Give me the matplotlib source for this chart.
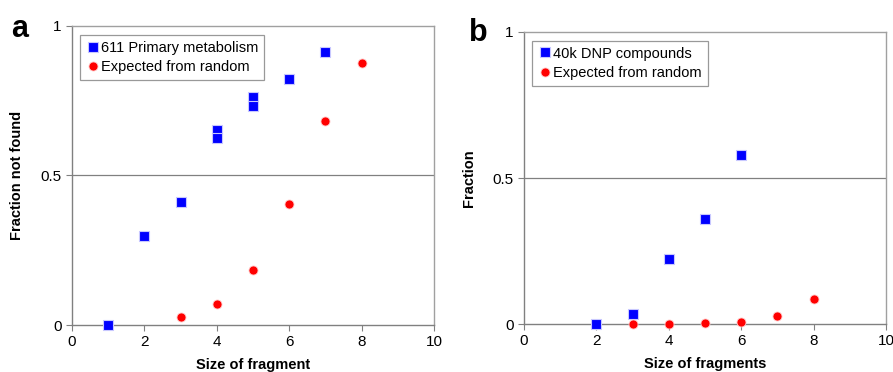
import numpy as np
import matplotlib
matplotlib.use('Agg')
import matplotlib.pyplot as plt

plt.rcParams['font.family'] = ['Liberation Sans', 'DejaVu Sans']

# panel a
a_blue_x = [1, 2, 3, 4, 4, 5, 5, 6, 7]
a_blue_y = [0.0, 0.299, 0.41, 0.652, 0.625, 0.762, 0.732, 0.823, 0.912]
a_red_x = [3, 4, 5, 6, 7, 8]
a_red_y = [0.026, 0.071, 0.184, 0.405, 0.682, 0.875]

# panel b
b_blue_x = [2, 3, 4, 5, 6]
b_blue_y = [0.0, 0.035, 0.224, 0.361, 0.579]
b_red_x = [3, 4, 5, 6, 7, 8]
b_red_y = [0.0, 0.0, 0.002, 0.007, 0.027, 0.087]

fig = plt.figure(figsize=(8.93, 3.72), dpi=100)
ax1 = fig.add_axes([0.0806, 0.1263, 0.4054, 0.804])
ax2 = fig.add_axes([0.5868, 0.129, 0.4054, 0.785])


def style(ax, bx, by, rx, ry, blabel, ylabel, xlabel):
    ax.axhline(0.5, color='#808080', lw=0.9, zorder=1)
    ax.plot(bx, by, 's', color='#0000ff', mec='#c8c8ff', mew=0.8, ms=7.5,
            label=blabel, zorder=3, clip_on=False)
    ax.plot(rx, ry, 'o', color='#ff0000', mec='#ffc8c8', mew=0.6, ms=6.5,
            label='Expected from random', zorder=3, clip_on=False)
    ax.set_xlim(0, 10)
    ax.set_ylim(0, 1)
    ax.set_xticks([0, 2, 4, 6, 8, 10])
    ax.set_yticks([0, 0.5, 1])
    ax.set_yticklabels(['0', '0.5', '1'])
    for s in ax.spines.values():
        s.set_color('#a0a0a0')
        s.set_linewidth(1.0)
    ax.spines['left'].set_color('#808080')
    ax.spines['bottom'].set_color('#808080')
    ax.tick_params(axis='both', labelsize=11, color='#808080', length=4,
                   direction='out')
    ax.set_ylabel(ylabel, fontsize=10.5, fontweight='bold', labelpad=12)
    ax.set_xlabel(xlabel, fontsize=10.5, fontweight='bold', labelpad=6)
    leg = ax.legend(loc='upper left', bbox_to_anchor=(0.01, 0.985), fontsize=10.5,
                    frameon=True, fancybox=False, handletextpad=0.05,
                    handlelength=1.0, borderpad=0.4, labelspacing=0.4,
                    borderaxespad=0.3)
    leg.get_frame().set_edgecolor('#808080')
    leg.get_frame().set_linewidth(0.9)


style(ax1, a_blue_x, a_blue_y, a_red_x, a_red_y, '611 Primary metabolism',
      'Fraction not found', 'Size of fragment')
style(ax2, b_blue_x, b_blue_y, b_red_x, b_red_y, '40k DNP compounds',
      'Fraction', 'Size of fragments')

fig.text(0.012, 0.9, 'a', fontsize=22, fontweight='bold')
fig.text(0.525, 0.89, 'b', fontsize=22, fontweight='bold')

fig.savefig('out.png', dpi=100)
